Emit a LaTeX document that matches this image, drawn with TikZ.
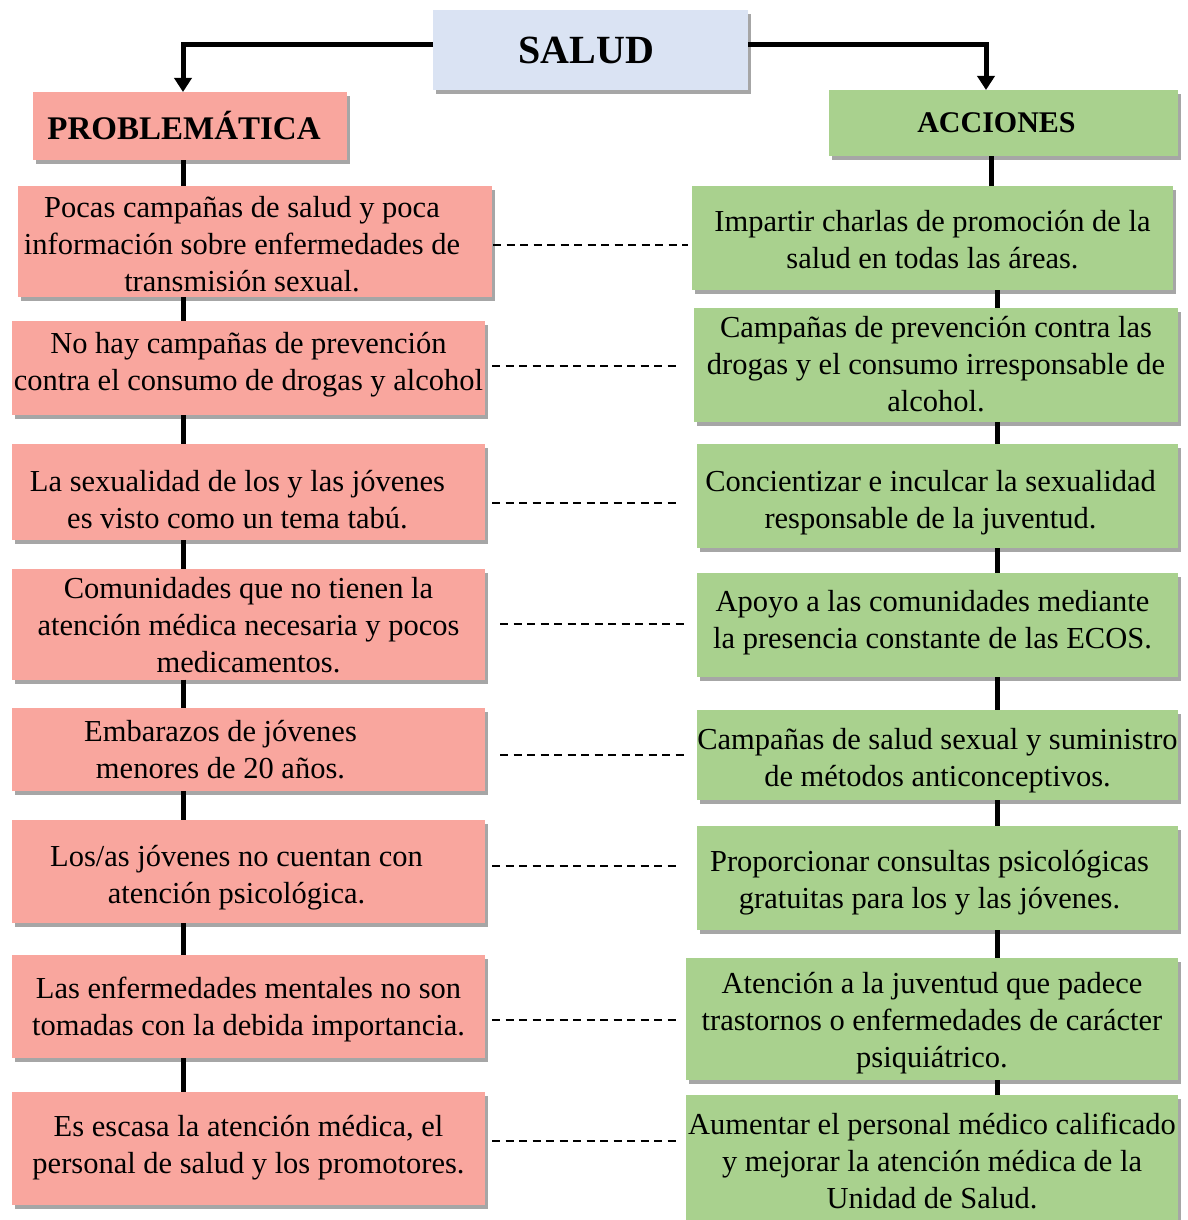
\documentclass[tikz,border=0pt]{standalone}
\usepackage{fontspec}
\setmainfont{Liberation Serif}
\usetikzlibrary{arrows.meta,shadows}
\definecolor{salmon}{RGB}{249,166,158}
\definecolor{lgreen}{RGB}{169,209,142}
\definecolor{lblue}{RGB}{218,227,243}
% #1 = twice the leftward text shift, #2 = downward text shift, #3 = lines
\newcommand\btxt[3]{\raisebox{-#2}[\height][\depth]{\begin{tabular}{@{}c@{}}#3\end{tabular}}\hspace*{#1}}
\begin{document}
\begin{tikzpicture}[x=1pt,y=-1pt,
  box/.style={inner sep=0pt, outer sep=0pt, draw=none, text=black,
    font=\fontsize{30.5}{37}\selectfont,
    drop shadow={shadow xshift=3pt,shadow yshift=-4pt,opacity=0.35,fill=black}},
  pbox/.style={box,fill=salmon},
  abox/.style={box,fill=lgreen},
  tbox/.style={box,font=\bfseries\fontsize{#1}{#1}\selectfont},
  conn/.style={line width=5pt,-{Triangle[width=17pt,length=14pt]}},
  spine/.style={line width=5pt},
  dline/.style={line width=1.9pt,dash pattern=on 8pt off 5.5pt}
]
\useasboundingbox (0,0) rectangle (1187,1220);
\coordinate (lx) at (183,0);
\coordinate (rx) at (997,0);
\coordinate (ax) at (986,0);

% titles
\node[tbox=40,fill=lblue,minimum width=315pt,minimum height=80pt] (salud) at (590.5,50) {SALUD\hspace*{8pt}};
\node[tbox=33,fill=salmon,minimum width=314pt,minimum height=68pt] (prob) at (190,126) {PROBLEMÁTICA\hspace*{12pt}};
\node[tbox=30,fill=lgreen,minimum width=349pt,minimum height=66pt] (acc) at (1003.5,123) {ACCIONES\hspace*{14pt}};

% problem boxes
\node[pbox,minimum width=474pt,minimum height=111pt] (l1) at (255,241.5)
  {\btxt{26pt}{6pt}{Pocas campañas de salud y poca\\información sobre enfermedades de\\transmisión sexual.}};
\node[pbox,minimum width=473pt,minimum height=94pt] (l2) at (248.5,368)
  {\btxt{0pt}{-3pt}{No hay campañas de prevención\\contra el consumo de drogas y alcohol}};
\node[pbox,minimum width=473pt,minimum height=96pt] (l3) at (248.5,492)
  {\btxt{22pt}{11pt}{La sexualidad de los y las jóvenes\\es visto como un tema tabú.}};
\node[pbox,minimum width=473pt,minimum height=104pt] (l4) at (248.5,624)
  {\btxt{0pt}{4pt}{Comunidades que no tienen la\\atención médica necesaria y pocos\\medicamentos.}};
\node[pbox,minimum width=473pt,minimum height=83pt] (l5) at (248.5,749.5)
  {\btxt{56pt}{3pt}{Embarazos de jóvenes\\menores de 20 años.}};
\node[pbox,minimum width=473pt,minimum height=103pt] (l6) at (248.5,871.5)
  {\btxt{24pt}{6pt}{Los/as jóvenes no cuentan con\\atención psicológica.}};
\node[pbox,minimum width=473pt,minimum height=103pt] (l7) at (248.5,1006.5)
  {\btxt{0pt}{3pt}{Las enfermedades mentales no son\\tomadas con la debida importancia.}};
\node[pbox,minimum width=473pt,minimum height=113pt] (l8) at (248.5,1148.5)
  {\btxt{0pt}{-1pt}{Es escasa la atención médica, el\\personal de salud y los promotores.}};

% action boxes
\node[abox,minimum width=481pt,minimum height=104pt] (r1) at (932.5,238)
  {\btxt{0pt}{4.5pt}{Impartir charlas de promoción de la\\salud en todas las áreas.}};
\node[abox,minimum width=484pt,minimum height=114pt] (r2) at (936,365)
  {\btxt{0pt}{2pt}{Campañas de prevención contra las\\drogas y el consumo irresponsable de\\alcohol.}};
\node[abox,minimum width=481pt,minimum height=104pt] (r3) at (937.5,496)
  {\btxt{14pt}{6.5pt}{Concientizar e inculcar la sexualidad\\responsable de la juventud.}};
\node[abox,minimum width=481pt,minimum height=104pt] (r4) at (937.5,625)
  {\btxt{10pt}{-2.5pt}{Apoyo a las comunidades mediante\\la presencia constante de las ECOS.}};
\node[abox,minimum width=481pt,minimum height=90pt] (r5) at (937.5,755)
  {\btxt{0pt}{5.5pt}{Campañas de salud sexual y suministro\\de métodos anticonceptivos.}};
\node[abox,minimum width=481pt,minimum height=104pt] (r6) at (937.5,878)
  {\btxt{16pt}{4.5pt}{Proporcionar consultas psicológicas\\gratuitas para los y las jóvenes.}};
\node[abox,minimum width=492pt,minimum height=122pt] (r7) at (932,1019)
  {\btxt{0pt}{4pt}{Atención a la juventud que padece\\trastornos o enfermedades de carácter\\psiquiátrico.}};
\node[abox,minimum width=492pt,minimum height=125pt] (r8) at (932,1157.5)
  {\btxt{0pt}{7pt}{Aumentar el personal médico calificado\\y mejorar la atención médica de la\\Unidad de Salud.}};

% top arrows
\draw[conn] ([yshift=5pt]salud.west) -| (lx |- prob.north);
\draw[conn] ([yshift=5pt]salud.east) -| (ax |- acc.north);

% spines
\draw[spine] (lx |- prob.south) -- (lx |- l1.north);
\foreach \a/\b in {l1/l2,l2/l3,l3/l4,l4/l5,l5/l6,l6/l7,l7/l8}
  \draw[spine] (lx |- \a.south) -- (lx |- \b.north);
\draw[spine] (991,0 |- acc.south) -- (991,0 |- r1.north);
\foreach \a/\b in {r1/r2,r2/r3,r3/r4,r4/r5,r5/r6,r6/r7,r7/r8}
  \draw[spine] (rx |- \a.south) -- (rx |- \b.north);

% dashed links (index / vertical offset / start gap / end gap)
\foreach \i/\dy/\sa/\sb in {1/-3.5/1/4, 2/2/7/14, 3/-11/7/17, 4/0/15/9,
                            5/-5.5/15/9, 6/5.5/7/17, 7/-13.5/7/6, 8/7.5/7/6}
  \draw[dline] ([xshift=\sa pt,yshift=\dy pt]l\i.east)
            -- ([xshift=-\sb pt,yshift=\dy pt]l\i.east -| r\i.west);
\end{tikzpicture}
\end{document}
